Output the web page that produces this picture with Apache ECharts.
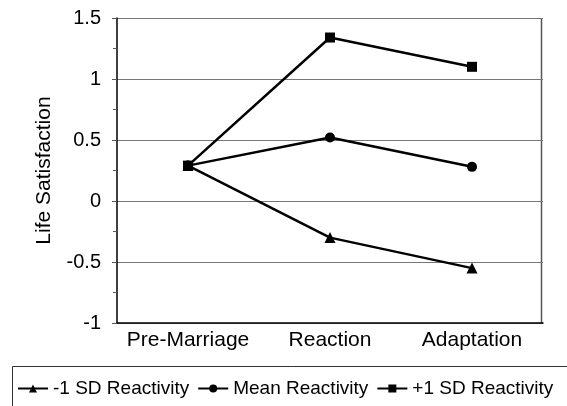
<!DOCTYPE html>
<html><head><meta charset="utf-8">
<script src="https://cdn.jsdelivr.net/npm/echarts@6/dist/echarts.min.js"></script>
<style>html,body{margin:0;padding:0;background:#fff}#c{width:567px;height:406px}</style>
</head><body><div id="c"></div>
<script>
const categories = ['Pre-Marriage', 'Reaction', 'Adaptation'];
const lowReactivity = [0.29, -0.30, -0.55];
const meanReactivity = [0.29, 0.52, 0.28];
const highReactivity = [0.29, 1.34, 1.10];
const seriesNames = ['-1 SD Reactivity', 'Mean Reactivity', '+1 SD Reactivity'];
const yTicks = [-1, -0.5, 0, 0.5, 1, 1.5];

const font = 'Liberation Sans, Arial, sans-serif';
const chart = echarts.init(document.getElementById('c'));
function mk(name, data, symbol, size) {
  return {
    name, type: 'line', data, symbol, symbolSize: size,
    lineStyle: { color: '#000', width: 2.5 },
    itemStyle: { color: '#000' },
    z: 3
  };
}
chart.setOption({
  animation: false,
  textStyle: { fontFamily: font },
  grid: { left: 117, right: 24, top: 18, bottom: 83 },
  xAxis: {
    type: 'category', data: categories, boundaryGap: true,
    axisLine: { onZero: false, lineStyle: { color: '#000', width: 1.5 } },
    axisTick: { alignWithLabel: true, length: 5, lineStyle: { color: '#000' } },
    axisLabel: { color: '#000', fontSize: 21, margin: 7, interval: 0, hideOverlap: false, fontFamily: font }
  },
  yAxis: {
    type: 'value', min: -1, max: 1.5, interval: 0.5,
    name: 'Life Satisfaction', nameLocation: 'middle', nameGap: 62, nameRotate: 90,
    nameTextStyle: { color: '#000', fontSize: 21, fontFamily: font },
    axisLine: { show: true, lineStyle: { color: '#000', width: 1.5 } },
    axisTick: { show: true, inside: false, length: 5, lineStyle: { color: '#555' } },
    minorTick: { show: true, splitNumber: 2, length: 4, lineStyle: { color: '#555' } },
    splitLine: { show: true, lineStyle: { color: '#777', width: 1 } },
    axisLabel: { color: '#000', fontSize: 20, margin: 16, fontFamily: font,
      formatter: v => yTicks.includes(v) ? String(v) : '' }
  },
  legend: {
    left: 12, top: 374, width: 560, itemGap: 8, itemWidth: 30, itemHeight: 10,
    textStyle: { color: '#000', fontSize: 19, fontFamily: font, padding: [0, 0, 0, 0] },
    data: seriesNames
  },
  graphic: [
    { type: 'rect', shape: { x: 541.5, y: 18, width: 0, height: 305 }, style: { stroke: '#555', lineWidth: 1.5 } },
    { type: 'rect', shape: { x: 12.5, y: 366.5, width: 600, height: 60 }, style: { fill: 'none', stroke: '#333', lineWidth: 1 } }
  ],
  series: [
    mk(seriesNames[0], lowReactivity, 'triangle', 11),
    mk(seriesNames[1], meanReactivity, 'circle', 10),
    mk(seriesNames[2], highReactivity, 'rect', 10)
  ]
});
</script></body></html>
